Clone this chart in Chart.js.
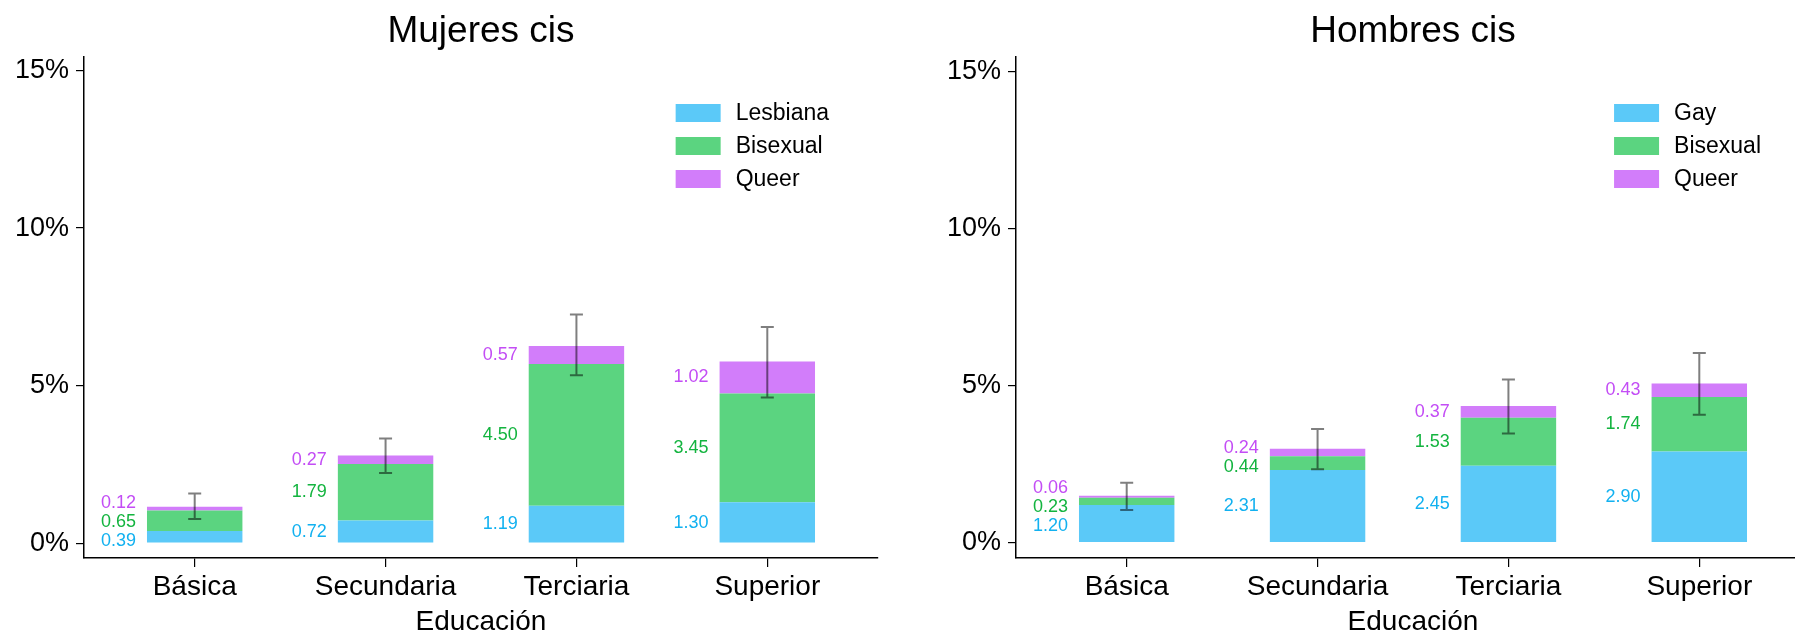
<!DOCTYPE html>
<html>
<head>
<meta charset="utf-8">
<script src="https://cdn.jsdelivr.net/npm/chart.js@4"></script>
<style>
  body { margin: 0; background: #fff; }
  #wrap { position: relative; width: 1795px; height: 635px; overflow: hidden; }
  canvas { position: absolute; top: 0; }
</style>
</head>
<body>
<div id="wrap">
  <canvas id="mujeres" width="932" height="635" style="left:0"></canvas>
  <canvas id="hombres" width="932" height="635" style="left:932px"></canvas>
</div>
<script>
const categories = ['Básica', 'Secundaria', 'Terciaria', 'Superior'];
const yTicks = [0, 5, 10, 15];

// Mujeres cis
const mujLesbiana = [0.39, 0.72, 1.19, 1.30];
const mujBisexual = [0.65, 1.79, 4.50, 3.45];
const mujQueer    = [0.12, 0.27, 0.57, 1.02];
const mujErrLow   = [0.77, 2.23, 5.33, 4.62];
const mujErrHigh  = [1.58, 3.32, 7.26, 6.86];

// Hombres cis
const homGay      = [1.20, 2.31, 2.45, 2.90];
const homBisexual = [0.23, 0.44, 1.53, 1.74];
const homQueer    = [0.06, 0.24, 0.37, 0.43];
const homErrLow   = [1.04, 2.34, 3.48, 4.07];
const homErrHigh  = [1.91, 3.62, 5.20, 6.04];

const FONT = "'Liberation Sans', Arial, Helvetica, sans-serif";
const barColors  = ['#5BC9F8', '#5BD480', '#D27DFA'];
const textColors = ['#12B1F0', '#13B43F', '#C34DF5'];

function overlay(title, errLow, errHigh) {
  return {
    id: 'overlay',
    afterDatasetsDraw(chart) {
      const ctx = chart.ctx;
      const area = chart.chartArea;
      const xs = chart.scales.x, ys = chart.scales.y;
      ctx.save();

      // title
      ctx.fillStyle = '#000';
      ctx.font = '37px ' + FONT;
      ctx.textAlign = 'center';
      ctx.textBaseline = 'alphabetic';
      ctx.fillText(title, (area.left + area.right) / 2, 42);

      // value labels left of each bar, nudged apart when they overlap
      ctx.font = '18px ' + FONT;
      ctx.textAlign = 'right';
      ctx.textBaseline = 'middle';
      categories.forEach((c, i) => {
        let base = 0;
        const pos = chart.data.datasets.map(ds => {
          const v = ds.data[i].y;
          const mid = ys.getPixelForValue(base + v / 2);
          base += v;
          return mid;
        });
        for (let k = 0; k < 60; k++) {
          for (let j = 1; j < pos.length; j++) {
            const gap = pos[j - 1] - pos[j];
            if (gap < 19) {
              const d = (19 - gap) / 2;
              pos[j - 1] += d;
              pos[j] -= d;
            }
          }
        }
        const bar = chart.getDatasetMeta(0).data[i];
        const left = bar.x - bar.width / 2;
        chart.data.datasets.forEach((ds, j) => {
          ctx.fillStyle = textColors[j];
          ctx.fillText(ds.data[i].y.toFixed(2), left - 11, pos[j]);
        });
      });

      // error bars
      ctx.strokeStyle = 'rgba(0,0,0,0.5)';
      ctx.lineWidth = 2;
      categories.forEach((c, i) => {
        const x = xs.getPixelForValue(i + 1);
        const y1 = ys.getPixelForValue(errLow[i]);
        const y2 = ys.getPixelForValue(errHigh[i]);
        ctx.beginPath();
        ctx.moveTo(x, y1); ctx.lineTo(x, y2);
        ctx.moveTo(x - 6.5, y1); ctx.lineTo(x + 6.5, y1);
        ctx.moveTo(x - 6.5, y2); ctx.lineTo(x + 6.5, y2);
        ctx.stroke();
      });

      // legend inside the panel, right-justified
      ctx.font = '23px ' + FONT;
      ctx.textAlign = 'left';
      const names = chart.data.datasets.map(ds => ds.label);
      const maxW = Math.max(...names.map(n => ctx.measureText(n).width));
      const right = area.left + 745;
      const boxX = right - maxW - 15 - 45;
      chart.data.datasets.forEach((ds, j) => {
        const top = 104 + j * 33;
        ctx.fillStyle = barColors[j];
        ctx.fillRect(boxX, top, 45, 18);
        ctx.fillStyle = '#000';
        ctx.fillText(ds.label, boxX + 60, top + 10);
      });
      ctx.restore();
    }
  };
}

function makeChart(id, title, names, series, errLow, errHigh, yMin, yMax) {
  const datasets = series.map((vals, j) => ({
    label: names[j],
    data: vals.map((v, i) => ({ x: i + 1, y: v })),
    backgroundColor: barColors[j],
    borderWidth: 0,
    barPercentage: 0.5,
    categoryPercentage: 1.0
  }));
  return new Chart(document.getElementById(id).getContext('2d'), {
    type: 'bar',
    data: { datasets: datasets },
    options: {
      responsive: false,
      animation: false,
      devicePixelRatio: 1,
      layout: { padding: { top: 57, right: 54, left: 0, bottom: 0 } },
      plugins: {
        legend: { display: false },
        tooltip: { enabled: false },
        title: { display: false }
      },
      scales: {
        x: {
          type: 'linear',
          stacked: true,
          offset: false,
          min: 0.42,
          max: 4.58,
          afterBuildTicks: ax => { ax.ticks = categories.map((c, i) => ({ value: i + 1 })); },
          afterFit: ax => { ax.height = 77; },
          ticks: {
            callback: v => categories[v - 1],
            color: '#000',
            font: { size: 28, family: FONT },
            padding: 3,
            maxRotation: 0,
            autoSkip: false
          },
          grid: { offset: false, drawOnChartArea: false, drawTicks: true, tickLength: 9, color: '#000', lineWidth: 1.2 },
          border: { display: true, color: '#000', width: 1.5 },
          title: { display: true, text: 'Educación', color: '#000', font: { size: 28, family: FONT }, padding: { top: 0, bottom: -4 } }
        },
        y: {
          stacked: true,
          min: yMin,
          max: yMax,
          afterBuildTicks: ax => { ax.ticks = yTicks.map(v => ({ value: v })); },
          afterFit: ax => { ax.width = 84; },
          ticks: {
            callback: v => v + '%',
            color: '#000',
            font: { size: 27, family: FONT },
            padding: 7
          },
          grid: { drawOnChartArea: false, drawTicks: true, tickLength: 8, color: '#000', lineWidth: 1.2 },
          border: { display: true, color: '#000', width: 1.5 }
        }
      }
    },
    plugins: [overlay(title, errLow, errHigh)]
  });
}

makeChart('mujeres', 'Mujeres cis', ['Lesbiana', 'Bisexual', 'Queer'],
  [mujLesbiana, mujBisexual, mujQueer], mujErrLow, mujErrHigh, -0.47, 15.43);
makeChart('hombres', 'Hombres cis', ['Gay', 'Bisexual', 'Queer'],
  [homGay, homBisexual, homQueer], homErrLow, homErrHigh, -0.49, 15.47);
</script>
</body>
</html>
